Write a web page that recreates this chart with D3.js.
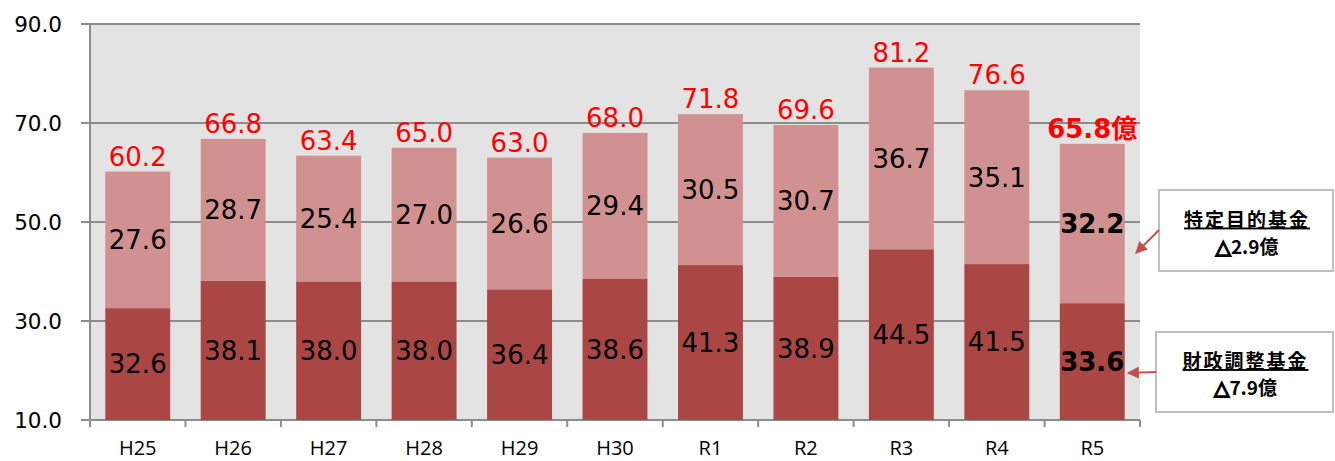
<!DOCTYPE html>
<html><head><meta charset="utf-8">
<script src="https://cdn.jsdelivr.net/npm/d3@7"></script>
<style>
html,body{margin:0;padding:0;background:#fff;}
svg{display:block;}
</style></head>
<body>
<svg id="chart" width="1335" height="461"></svg>
<script>
const categories = ["H25","H26","H27","H28","H29","H30","R1","R2","R3","R4","R5"];
const adjustmentFund = [32.6,38.1,38.0,38.0,36.4,38.6,41.3,38.9,44.5,41.5,33.6]; // 財政調整基金
const specificFund = [27.6,28.7,25.4,27.0,26.6,29.4,30.5,30.7,36.7,35.1,32.2];   // 特定目的基金
const totals = [60.2,66.8,63.4,65.0,63.0,68.0,71.8,69.6,81.2,76.6,65.8];
const yTicks = [10,30,50,70,90];
const callouts = [
  {title:"特定目的基金", sub:"2.9億"},
  {title:"財政調整基金", sub:"7.9億"}
];

const svg = d3.select("#chart");
const L = 90, R = 1140, T = 24, B = 420;
const font = "'DejaVu Sans', Verdana, sans-serif";
const xfont = "'Open Sans', 'Segoe UI', sans-serif";
const cjk = "'Noto Sans CJK JP', 'Noto Sans', sans-serif";

const x = d3.scaleBand().domain(categories).range([L, R]).paddingInner(0.32).paddingOuter(0.16);
const y = d3.scaleLinear().domain([10, 90]).range([B, T]);

const defs = svg.append("defs");
defs.append("marker").attr("id","arr").attr("viewBox","0 0 10 10").attr("refX",9).attr("refY",5)
  .attr("markerWidth",6).attr("markerHeight",6).attr("markerUnits","strokeWidth").attr("orient","auto")
  .append("path").attr("d","M0,0 L10,5 L0,10 z").attr("fill","#c0504d");

// plot background
svg.append("rect").attr("x",L).attr("y",T).attr("width",R-L).attr("height",B-T).attr("fill","#e3e3e3");

// gridlines
svg.append("g").selectAll("line").data(yTicks).join("line")
  .attr("x1",L-9).attr("x2",R).attr("y1",d=>y(d)).attr("y2",d=>y(d))
  .attr("stroke","#8c8c8c").attr("stroke-width",2);

// y axis
const yAxis = d3.axisLeft(y).tickValues(yTicks).tickFormat(d3.format(".1f")).tickSize(0).tickPadding(0);
const ya = svg.append("g").attr("transform",`translate(${L},0)`).call(yAxis);
ya.select(".domain").remove();
ya.selectAll("text").attr("x",-28).attr("dy","0.36em").attr("font-family",font).attr("font-size",21.5).attr("fill","#000");
svg.append("line").attr("x1",L).attr("x2",L).attr("y1",T).attr("y2",B+7).attr("stroke","#8c8c8c").attr("stroke-width",2);

// x axis
const xa = svg.append("g").attr("transform",`translate(0,${B})`).call(d3.axisBottom(x).tickSize(0).tickPadding(0));
xa.select(".domain").remove();
xa.selectAll("text").attr("y",35).attr("dy",0).attr("font-family",xfont).attr("font-size",20).attr("fill","#000");
const bounds = d3.range(categories.length+1).map(i => L + i*x.step());
svg.append("g").selectAll("line").data(bounds).join("line")
  .attr("x1",d=>d).attr("x2",d=>d).attr("y1",B).attr("y2",B+7).attr("stroke","#8c8c8c").attr("stroke-width",2);

// bars
const rows = categories.map((c,i)=>({c,i,a:adjustmentFund[i],s:specificFund[i],t:totals[i]}));
const g = svg.append("g");
g.selectAll(".dark").data(rows).join("rect").attr("class","dark")
  .attr("x",d=>x(d.c)).attr("width",x.bandwidth())
  .attr("y",d=>y(d.a)).attr("height",d=>y(10)-y(d.a)).attr("fill","#aa4744");
g.selectAll(".light").data(rows).join("rect").attr("class","light")
  .attr("x",d=>x(d.c)).attr("width",x.bandwidth())
  .attr("y",d=>y(d.a+d.s)).attr("height",d=>y(d.a)-y(d.a+d.s)).attr("fill","#d29191");

const last = categories.length-1;
// segment labels
g.selectAll(".dl").data(rows).join("text")
  .attr("x",d=>x(d.c)+x.bandwidth()/2).attr("y",d=>(y(10)+y(d.a))/2).attr("dy","0.36em")
  .attr("text-anchor","middle").attr("font-family",font).attr("font-size",26)
  .attr("font-weight",d=>d.i===last?"bold":"normal").attr("fill","#000")
  .text(d=>d.a.toFixed(1));
g.selectAll(".sl").data(rows).join("text")
  .attr("x",d=>x(d.c)+x.bandwidth()/2).attr("y",d=>(y(d.a)+y(d.a+d.s))/2).attr("dy","0.36em")
  .attr("text-anchor","middle").attr("font-family",font).attr("font-size",26)
  .attr("font-weight",d=>d.i===last?"bold":"normal").attr("fill","#000")
  .text(d=>d.s.toFixed(1));
// totals
g.selectAll(".tl").data(rows).join("text")
  .attr("x",d=>x(d.c)+x.bandwidth()/2).attr("y",d=>y(d.t)-6)
  .attr("text-anchor","middle").attr("font-family",font).attr("font-size",26)
  .attr("font-weight",d=>d.i===last?"bold":"normal").attr("fill","#ff0000")
  .each(function(d){
    const t = d3.select(this);
    t.append("tspan").text(d.t.toFixed(1));
    if(d.i===last) t.append("tspan").attr("font-family",cjk).text("億");
  });

// callouts
const boxes = [
  {x:1159,y:190,w:174,h:81, ax1:1159, ay1:230, ax2:1136, ay2:253},
  {x:1156,y:332,w:177,h:80, ax1:1156, ay1:372, ax2:1128, ay2:373}
];
boxes.forEach((b,i)=>{
  svg.append("rect").attr("x",b.x).attr("y",b.y).attr("width",b.w).attr("height",b.h)
    .attr("fill","#fff").attr("stroke","#c0c0c0").attr("stroke-width",2);
  const cx = b.x + b.w/2 + 1, cy = b.y + b.h/2;
  svg.append("text").attr("x",cx).attr("y",cy-4).attr("text-anchor","middle")
    .attr("font-family",cjk).attr("font-weight","bold").attr("font-size",19).attr("letter-spacing","2px")
    .attr("text-decoration","underline").attr("fill","#000").text(callouts[i].title);
  const st = svg.append("text").attr("x",cx).attr("y",cy+23).attr("text-anchor","middle")
    .attr("font-weight","bold").attr("font-size",19).attr("fill","#000");
  st.append("tspan").attr("font-family","'DejaVu Sans', sans-serif").attr("font-size",20)
    .attr("stroke","#000").attr("stroke-width",1.6).text("△");
  st.append("tspan").attr("font-family",cjk).text(callouts[i].sub);
  svg.append("line").attr("x1",b.ax1).attr("y1",b.ay1).attr("x2",b.ax2).attr("y2",b.ay2)
    .attr("stroke","#c0504d").attr("stroke-width",2).attr("marker-end","url(#arr)");
});
</script>
</body></html>
